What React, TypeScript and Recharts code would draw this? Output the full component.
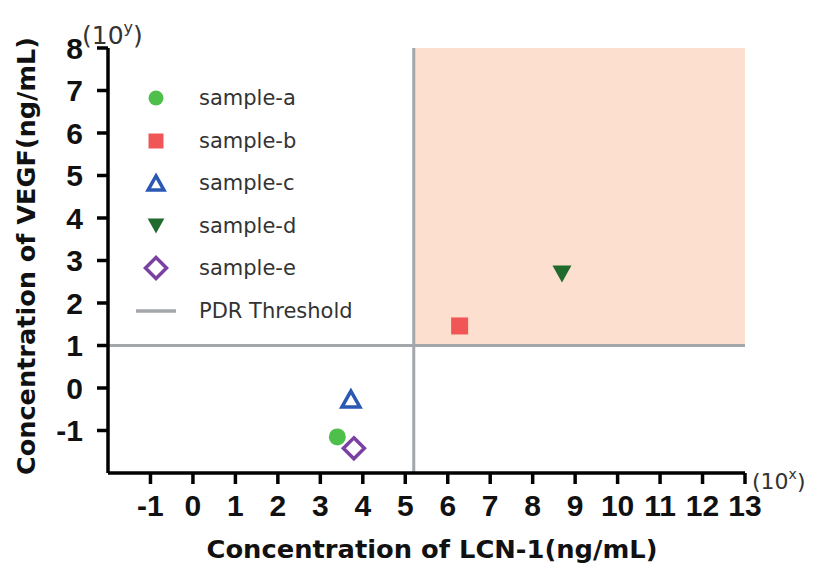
import {
    ScatterChart, Scatter, XAxis, YAxis, ReferenceArea, ReferenceLine
} from "recharts";

// values (log10 of concentration)
const sampleA = [{ x: 3.4, y: -1.15 }];
const sampleB = [{ x: 6.28, y: 1.46 }];
const sampleC = [{ x: 3.72, y: -0.26 }];
const sampleD = [{ x: 8.69, y: 2.68 }];
const sampleE = [{ x: 3.79, y: -1.42 }];

const xTicks = [-1, 0, 1, 2, 3, 4, 5, 6, 7, 8, 9, 10, 11, 12, 13];
const yTicks = [-1, 0, 1, 2, 3, 4, 5, 6, 7, 8];

const thresholdX = 5.2;
const thresholdY = 1;

const legendNames = ["sample-a", "sample-b", "sample-c", "sample-d", "sample-e", "PDR Threshold"];

const GRAY = '#a3a7ab';

function Marker({ kind, cx, cy, small }: { kind: string; cx: number; cy: number; small?: boolean }) {
    const k = small ? 0.88 : 1;
    if (kind === 'circle') {
        return <circle cx={cx} cy={cy} r={8.5 * k} fill="#4fbf4b" />;
    }
    if (kind === 'square') {
        const s = 17 * k;
        return <rect x={cx - s / 2} y={cy - s / 2} width={s} height={s} fill="#f05656" />;
    }
    if (kind === 'triangle') {
        const w = 9 * k, h = 8 * k;
        return <path d={`M${cx},${cy - h} L${cx + w},${cy + h} L${cx - w},${cy + h} Z`} fill="white" stroke="#2b58b3" strokeWidth={3.5} strokeLinejoin="miter" />;
    }
    if (kind === 'down') {
        const w = 9.5 * k, h = 8.5 * k;
        return <path d={`M${cx - w},${cy - h} L${cx + w},${cy - h} L${cx},${cy + h} Z`} fill="#1f6a2c" />;
    }
    if (kind === 'diamond') {
        const d = 10.5;
        return <path d={`M${cx},${cy - d} L${cx + d},${cy} L${cx},${cy + d} L${cx - d},${cy} Z`} fill="white" stroke="#7a40a2" strokeWidth={3.5} />;
    }
    return <line x1={cx - 20} y1={cy} x2={cx + 20} y2={cy} stroke={GRAY} strokeWidth={3.5} />;
}

const kinds = ['circle', 'square', 'triangle', 'down', 'diamond', 'line'];

const shapeOf = (kind: string) => (props: any) => <Marker kind={kind} cx={props.cx} cy={props.cy} />;

export default function App() {
    return (
        <div style={{ position: 'absolute', left: 0, top: 0, width: 815, height: 564, background: 'white' }}>
            <ScatterChart width={815} height={564} margin={{ top: 48, right: 70, left: 0, bottom: 0 }}>
                <XAxis type="number" dataKey="x" domain={[-2, 13]} ticks={xTicks} interval={0} allowDataOverflow
                    height={91} tickSize={11} tickMargin={11}
                    axisLine={{ stroke: '#000', strokeWidth: 3.5 }} tickLine={{ stroke: '#000', strokeWidth: 3.5 }}
                    tick={{ fontSize: 30, fontWeight: 700, fill: '#111', fontFamily: 'Liberation Sans' }} />
                <YAxis type="number" dataKey="y" domain={[-2, 8]} ticks={yTicks} interval={0} allowDataOverflow
                    width={108} tickSize={11} tickMargin={14}
                    axisLine={{ stroke: '#000', strokeWidth: 3.5 }} tickLine={{ stroke: '#000', strokeWidth: 3.5 }}
                    tick={{ fontSize: 30, fontWeight: 700, fill: '#111', fontFamily: 'Liberation Sans' }} />
                <ReferenceArea x1={thresholdX} x2={13} y1={thresholdY} y2={8} fill="#fddfcf" fillOpacity={1} stroke="none" />
                <ReferenceLine x={thresholdX} stroke={GRAY} strokeWidth={3} />
                <ReferenceLine y={thresholdY} stroke={GRAY} strokeWidth={3} />
                <Scatter name="sample-a" data={sampleA} shape={shapeOf('circle')} isAnimationActive={false} />
                <Scatter name="sample-b" data={sampleB} shape={shapeOf('square')} isAnimationActive={false} />
                <Scatter name="sample-c" data={sampleC} shape={shapeOf('triangle')} isAnimationActive={false} />
                <Scatter name="sample-d" data={sampleD} shape={shapeOf('down')} isAnimationActive={false} />
                <Scatter name="sample-e" data={sampleE} shape={shapeOf('diamond')} isAnimationActive={false} />
            </ScatterChart>

            {/* legend */}
            <div style={{ position: 'absolute', left: 131, top: 77, fontFamily: 'DejaVu Sans', fontSize: 21, color: '#333' }}>
                {legendNames.map((name, i) => (
                    <div key={name} style={{ display: 'flex', alignItems: 'center', height: 42.5 }}>
                        <svg width={50} height={30}>
                            <Marker kind={kinds[i]} cx={25} cy={15} small />
                        </svg>
                        <span style={{ marginLeft: 18 }}>{name}</span>
                    </div>
                ))}
            </div>

            {/* axis titles and exponents */}
            <svg width={815} height={564} style={{ position: 'absolute', left: 0, top: 0, pointerEvents: 'none' }}>
                <text x={432} y={558} textAnchor="middle" fontFamily="DejaVu Sans" fontWeight={700} fontSize={25}
                    fill="#111" textLength={451} lengthAdjust="spacingAndGlyphs">Concentration of LCN-1(ng/mL)</text>
                <text transform="translate(35,256) rotate(-90)" textAnchor="middle" fontFamily="DejaVu Sans" fontWeight={700}
                    fontSize={25} fill="#111" textLength={438} lengthAdjust="spacingAndGlyphs">Concentration of VEGF(ng/mL)</text>
                <text x={82} y={44} fontFamily="DejaVu Sans" fontSize={25} fill="#333">
                    (10<tspan dy={-11} fontSize={16}>y</tspan><tspan dy={11} fontSize={25}>)</tspan>
                </text>
                <text x={752} y={489} fontFamily="DejaVu Sans" fontSize={22} fill="#333">
                    (10<tspan dy={-10} fontSize={14}>x</tspan><tspan dy={10} fontSize={22}>)</tspan>
                </text>
            </svg>
        </div>
    );
}
